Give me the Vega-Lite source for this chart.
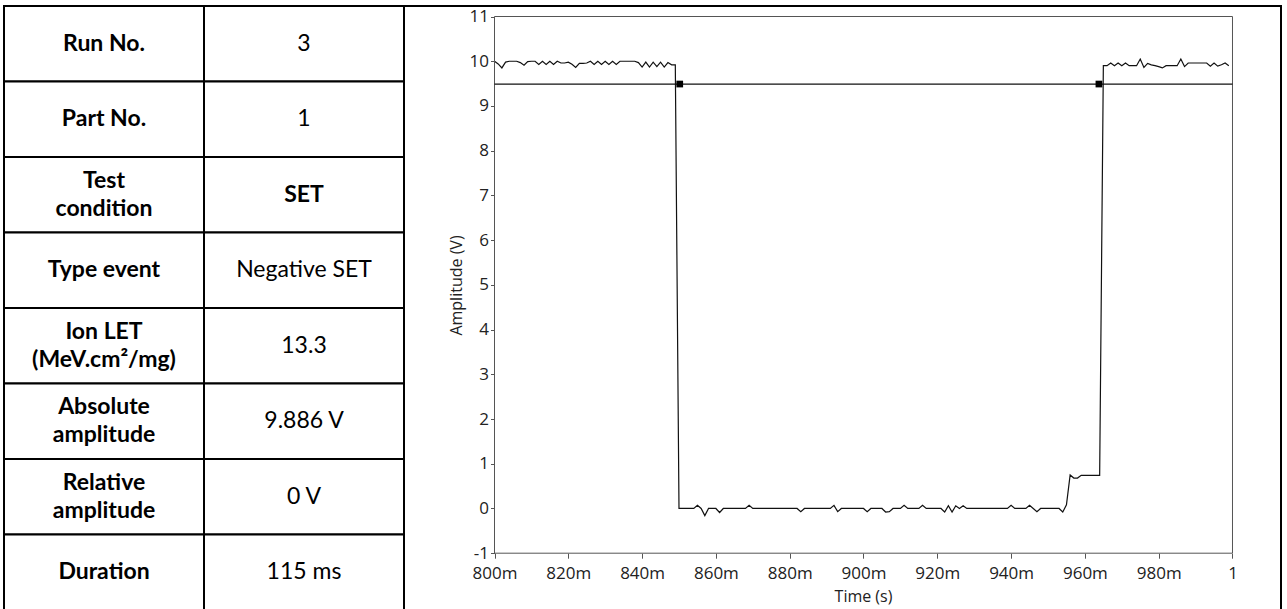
{
  "$schema": "https://vega.github.io/schema/vega-lite/v6.json",
  "background": "white",
  "padding": {"left": 3, "top": 5, "right": 0, "bottom": 0},
  "bounds": "flush",
  "spacing": 0,
  "config": {
    "view": {"stroke": null},
    "axis": {
      "labelFont": "Open Sans", "titleFont": "Open Sans", "labelColor": "#222", "titleColor": "#222",
      "tickColor": "#555", "titleFontWeight": "normal", "labelFontSize": 17, "titleFontSize": 16,
      "grid": false, "domain": false, "labelFlush": false
    }
  },
  "hconcat": [
    {
      "width": 400,
      "height": 604,
      "data": {"values": [
        {"row": 1, "param": "Run No.", "result": "3"},
        {"row": 2, "param": "Part No.", "result": "1"},
        {"row": 3, "param": "Test\ncondition", "result": "SET"},
        {"row": 4, "param": "Type event", "result": "Negative SET"},
        {"row": 5, "param": "Ion LET\n(MeV.cm²/mg)", "result": "13.3"},
        {"row": 6, "param": "Absolute\namplitude", "result": "9.886 V"},
        {"row": 7, "param": "Relative\namplitude", "result": "0 V"},
        {"row": 8, "param": "Duration", "result": "115 ms"}
      ]},
      "transform": [{"fold": ["param", "result"], "as": ["col", "cell"]}],
      "layer": [
        {
          "mark": {"type": "rect", "fill": "white", "stroke": "black", "strokeWidth": 2},
          "encoding": {
            "x": {"field": "col", "type": "nominal", "axis": null, "scale": {"paddingInner": 0, "paddingOuter": 0}},
            "y": {"field": "row", "type": "ordinal", "axis": null, "scale": {"paddingInner": 0, "paddingOuter": 0}}
          }
        },
        {
          "transform": [{"filter": "(datum.col == 'param' || datum.cell == 'SET') && indexof(datum.cell, '\\n') < 0"}],
          "mark": {"type": "text", "font": "Lato", "fontSize": 23, "fontWeight": "bold", "color": "black", "align": "center", "baseline": "middle"},
          "encoding": {
            "x": {"field": "col", "type": "nominal", "axis": null},
            "y": {"field": "row", "type": "ordinal", "axis": null},
            "text": {"field": "cell"}
          }
        },
        {
          "transform": [{"filter": "indexof(datum.cell, '\\n') >= 0"}],
          "mark": {"type": "text", "font": "Lato", "fontSize": 23, "fontWeight": "bold", "color": "black", "lineBreak": "\n", "lineHeight": 28, "dy": -14, "align": "center", "baseline": "middle"},
          "encoding": {
            "x": {"field": "col", "type": "nominal", "axis": null},
            "y": {"field": "row", "type": "ordinal", "axis": null},
            "text": {"field": "cell"}
          }
        },
        {
          "transform": [{"filter": "!(datum.col == 'param' || datum.cell == 'SET')"}],
          "mark": {"type": "text", "font": "Lato", "fontSize": 23, "fontWeight": "normal", "color": "black", "align": "center", "baseline": "middle"},
          "encoding": {
            "x": {"field": "col", "type": "nominal", "axis": null},
            "y": {"field": "row", "type": "ordinal", "axis": null},
            "text": {"field": "cell"}
          }
        }
      ]
    },
    {
      "width": 877,
      "height": 604,
      "view": {"stroke": "black", "strokeWidth": 2},
      "layer": [
        {
          "data": {"values": [
            {"t":0.800,"v":10.00},{"t":0.801,"v":9.94},{"t":0.802,"v":9.85},{"t":0.803,"v":9.98},{"t":0.804,"v":10.00},
            {"t":0.805,"v":10.00},{"t":0.806,"v":10.00},{"t":0.807,"v":9.97},{"t":0.808,"v":9.91},{"t":0.809,"v":9.99},
            {"t":0.810,"v":10.00},{"t":0.811,"v":10.00},{"t":0.812,"v":9.93},{"t":0.813,"v":10.00},{"t":0.814,"v":9.93},
            {"t":0.815,"v":10.00},{"t":0.816,"v":9.93},{"t":0.817,"v":10.00},{"t":0.818,"v":9.96},{"t":0.819,"v":9.96},
            {"t":0.820,"v":9.98},{"t":0.821,"v":9.93},{"t":0.822,"v":9.86},{"t":0.823,"v":9.95},{"t":0.824,"v":9.95},
            {"t":0.825,"v":9.96},{"t":0.826,"v":10.00},{"t":0.827,"v":9.93},{"t":0.828,"v":10.00},{"t":0.829,"v":9.93},
            {"t":0.830,"v":10.00},{"t":0.831,"v":9.93},{"t":0.832,"v":10.00},{"t":0.833,"v":9.93},{"t":0.834,"v":10.00},
            {"t":0.835,"v":10.00},{"t":0.836,"v":10.00},{"t":0.837,"v":10.00},{"t":0.838,"v":10.00},{"t":0.839,"v":9.97},
            {"t":0.840,"v":9.87},{"t":0.841,"v":9.98},{"t":0.842,"v":9.87},{"t":0.843,"v":9.98},{"t":0.844,"v":9.88},
            {"t":0.845,"v":9.98},{"t":0.846,"v":9.87},{"t":0.847,"v":9.97},{"t":0.848,"v":9.92},{"t":0.849,"v":9.92},
            {"t":0.850,"v":0},{"t":0.851,"v":0},{"t":0.852,"v":0},{"t":0.853,"v":0},{"t":0.854,"v":0},
            {"t":0.855,"v":0.07},{"t":0.856,"v":0},{"t":0.857,"v":-0.16},{"t":0.858,"v":0},{"t":0.859,"v":0},
            {"t":0.860,"v":0},{"t":0.861,"v":-0.09},{"t":0.862,"v":0},{"t":0.863,"v":0},{"t":0.864,"v":0},
            {"t":0.865,"v":0},{"t":0.866,"v":0},{"t":0.867,"v":0},{"t":0.868,"v":0},{"t":0.869,"v":0.07},
            {"t":0.870,"v":0},{"t":0.871,"v":0},{"t":0.872,"v":0},{"t":0.873,"v":0},{"t":0.874,"v":0},
            {"t":0.875,"v":0},{"t":0.876,"v":0},{"t":0.877,"v":0},{"t":0.878,"v":0},{"t":0.879,"v":0},
            {"t":0.880,"v":0},{"t":0.881,"v":0},{"t":0.882,"v":0},{"t":0.883,"v":-0.07},{"t":0.884,"v":0},
            {"t":0.885,"v":0},{"t":0.886,"v":0},{"t":0.887,"v":0},{"t":0.888,"v":0},{"t":0.889,"v":0},
            {"t":0.890,"v":0},{"t":0.891,"v":0},{"t":0.892,"v":0.07},{"t":0.893,"v":-0.07},{"t":0.894,"v":0},
            {"t":0.895,"v":0},{"t":0.896,"v":0},{"t":0.897,"v":0},{"t":0.898,"v":0},{"t":0.899,"v":0},
            {"t":0.900,"v":0},{"t":0.901,"v":-0.07},{"t":0.902,"v":0},{"t":0.903,"v":0},{"t":0.904,"v":0},
            {"t":0.905,"v":0},{"t":0.906,"v":-0.08},{"t":0.907,"v":-0.07},{"t":0.908,"v":0},{"t":0.909,"v":0},
            {"t":0.910,"v":0},{"t":0.911,"v":0.07},{"t":0.912,"v":0},{"t":0.913,"v":0},{"t":0.914,"v":0},
            {"t":0.915,"v":0},{"t":0.916,"v":0.07},{"t":0.917,"v":0},{"t":0.918,"v":0},{"t":0.919,"v":0},
            {"t":0.920,"v":0},{"t":0.921,"v":0},{"t":0.922,"v":-0.08},{"t":0.923,"v":0.06},{"t":0.924,"v":-0.08},
            {"t":0.925,"v":0.06},{"t":0.926,"v":0},{"t":0.927,"v":0.06},{"t":0.928,"v":0},{"t":0.929,"v":0},
            {"t":0.930,"v":0},{"t":0.931,"v":0},{"t":0.932,"v":0},{"t":0.933,"v":0},{"t":0.934,"v":0},
            {"t":0.935,"v":0},{"t":0.936,"v":0},{"t":0.937,"v":0},{"t":0.938,"v":0},{"t":0.939,"v":0},
            {"t":0.940,"v":0.07},{"t":0.941,"v":0},{"t":0.942,"v":0},{"t":0.943,"v":0},{"t":0.944,"v":0},
            {"t":0.945,"v":0.07},{"t":0.946,"v":0},{"t":0.947,"v":-0.07},{"t":0.948,"v":0},{"t":0.949,"v":0},
            {"t":0.950,"v":0},{"t":0.951,"v":0},{"t":0.952,"v":0},{"t":0.953,"v":0},{"t":0.954,"v":-0.08},
            {"t":0.955,"v":0.08},{"t":0.956,"v":0.75},{"t":0.957,"v":0.68},{"t":0.958,"v":0.68},{"t":0.959,"v":0.74},
            {"t":0.960,"v":0.74},{"t":0.961,"v":0.74},{"t":0.962,"v":0.74},{"t":0.963,"v":0.74},{"t":0.964,"v":0.74},
            {"t":0.965,"v":9.90},{"t":0.966,"v":9.90},{"t":0.967,"v":9.96},{"t":0.968,"v":9.90},{"t":0.969,"v":9.96},
            {"t":0.970,"v":9.90},{"t":0.971,"v":9.96},{"t":0.972,"v":9.90},{"t":0.973,"v":9.90},{"t":0.974,"v":9.90},
            {"t":0.975,"v":10.05},{"t":0.976,"v":9.86},{"t":0.977,"v":9.95},{"t":0.978,"v":9.92},{"t":0.979,"v":9.90},
            {"t":0.980,"v":9.88},{"t":0.981,"v":9.85},{"t":0.982,"v":9.90},{"t":0.983,"v":9.90},{"t":0.984,"v":9.90},
            {"t":0.985,"v":9.90},{"t":0.986,"v":10.05},{"t":0.987,"v":9.88},{"t":0.988,"v":9.96},{"t":0.989,"v":9.96},
            {"t":0.990,"v":9.96},{"t":0.991,"v":9.96},{"t":0.992,"v":9.96},{"t":0.993,"v":9.96},{"t":0.994,"v":9.89},
            {"t":0.995,"v":9.96},{"t":0.996,"v":9.89},{"t":0.997,"v":9.92},{"t":0.998,"v":9.96},{"t":0.999,"v":9.90}
          ]},
          "mark": {"type": "line", "color": "#111", "strokeWidth": 1.2},
          "encoding": {
            "x": {"field": "t", "type": "quantitative", "scale": {"domain": [0.775474, 1.013144], "nice": false, "zero": false},
              "axis": {"orient": "bottom", "offset": -56.8, "values": [0.8, 0.82, 0.84, 0.86, 0.88, 0.9, 0.92, 0.94, 0.96, 0.98, 1.0],
                "labelExpr": "datum.value > 0.999 ? '1' : round(datum.value * 1000) + 'm'",
                "tickSize": 5, "labelPadding": 7, "title": "Time (s)", "titleX": 459, "titleY": 35, "titleBaseline": "top", "titleAlign": "center"}},
            "y": {"field": "v", "type": "quantitative", "scale": {"domain": [-2.2701, 11.2348], "nice": false, "zero": false},
              "axis": {"orient": "left", "offset": -90.5, "values": [-1, 0, 1, 2, 3, 4, 5, 6, 7, 8, 9, 10, 11],
                "labelExpr": "'' + datum.value",
                "tickSize": 4, "labelPadding": 2, "title": "Amplitude (V)", "titleY": 279, "titlePadding": 5}}
          }
        },
        {
          "data": {"values": [{}]},
          "mark": {"type": "rect", "fill": null, "stroke": "#555", "strokeWidth": 1},
          "encoding": {
            "x": {"datum": 0.8, "type": "quantitative"},
            "x2": {"datum": 1.0},
            "y": {"datum": -1, "type": "quantitative"},
            "y2": {"datum": 11}
          }
        },
        {
          "data": {"values": [{"threshold": 9.49}]},
          "mark": {"type": "rule", "color": "#111", "strokeWidth": 1.3},
          "encoding": {
            "x": {"datum": 0.8, "type": "quantitative"},
            "x2": {"datum": 1.0},
            "y": {"field": "threshold", "type": "quantitative"}
          }
        },
        {
          "data": {"values": [{"t": 0.8502, "v": 9.49}, {"t": 0.9638, "v": 9.49}]},
          "mark": {"type": "point", "shape": "square", "filled": true, "color": "black", "size": 45, "opacity": 1},
          "encoding": {
            "x": {"field": "t", "type": "quantitative"},
            "y": {"field": "v", "type": "quantitative"}
          }
        }
      ]
    }
  ]
}
